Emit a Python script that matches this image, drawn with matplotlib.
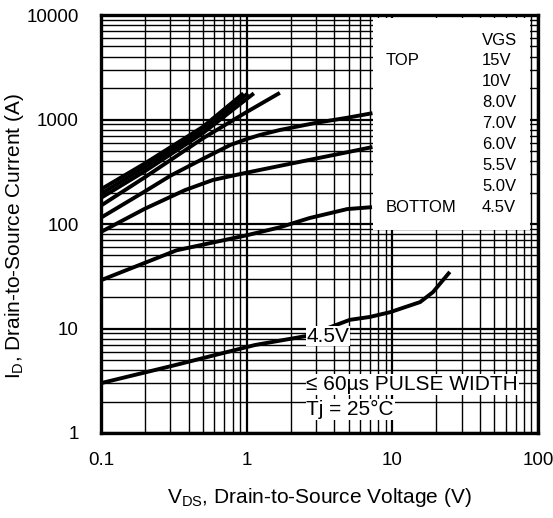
import matplotlib
matplotlib.use("Agg")
import matplotlib.pyplot as plt
from matplotlib.ticker import LogLocator, NullFormatter, FixedLocator, FixedFormatter
import matplotlib.patches as mpatches

plt.rcParams['font.family'] = ['Liberation Sans', 'DejaVu Sans']
plt.rcParams['mathtext.fontset'] = 'custom'
plt.rcParams['mathtext.rm'] = 'Liberation Sans'
plt.rcParams['mathtext.it'] = 'Liberation Sans'

# ---- data ----
vgs_labels = ["15V", "10V", "8.0V", "7.0V", "6.0V", "5.5V", "5.0V", "4.5V"]

v_15 = [0.1, 0.2, 0.5, 0.95]
i_15 = [215, 380, 850, 1780]
v_10 = [0.1, 0.2, 0.5, 1.02]
i_10 = [195, 350, 800, 1780]
v_8 = [0.1, 0.2, 0.5, 1.12]
i_8 = [178, 320, 740, 1780]
v_7 = [0.1, 0.2, 0.5, 1.0, 1.69]
i_7 = [150, 280, 660, 1180, 1800]
v_6 = [0.1, 0.2, 0.3, 0.5, 0.77, 1.0, 1.23, 1.69, 3.0, 5.0, 7.3]
i_6 = [115, 205, 290, 420, 570, 650, 711, 794, 930, 1045, 1150]
v_55 = [0.1, 0.2, 0.377, 0.587, 1.0, 1.23, 1.69, 2.72, 5.0, 7.3]
i_55 = [84, 140, 211, 264, 310, 329, 360, 412, 489, 545]
v_5 = [0.1, 0.33, 1.0, 1.69, 2.7, 4.9, 7.25]
i_5 = [29, 56, 78, 93, 114, 139, 145]
v_45 = [0.1, 0.32, 1.14, 2.6, 5.1, 7.0, 9.6, 15.5, 19.0, 24.8]
i_45 = [3.0, 4.45, 6.95, 8.5, 12.1, 12.9, 14.3, 17.9, 22.3, 34.8]

x_ticks = [0.1, 1, 10, 100]
x_tick_labels = ["0.1", "1", "10", "100"]
y_ticks = [1, 10, 100, 1000, 10000]
y_tick_labels = ["1", "10", "100", "1000", "10000"]

curves = [(v_15, i_15), (v_10, i_10), (v_8, i_8), (v_7, i_7),
          (v_6, i_6), (v_55, i_55), (v_5, i_5), (v_45, i_45)]

fig = plt.figure(figsize=(5.53, 5.18), dpi=100)
ax = fig.add_axes([0.1826, 0.1641, 0.7904, 0.8069])
ax.set_xscale('log')
ax.set_yscale('log')
ax.set_xlim(0.1, 100)
ax.set_ylim(1, 10000)

# grid
ax.set_axisbelow(True)
ax.xaxis.set_minor_locator(LogLocator(base=10, subs=range(2, 10), numticks=20))
ax.yaxis.set_minor_locator(LogLocator(base=10, subs=range(2, 10), numticks=20))
ax.xaxis.set_minor_formatter(NullFormatter())
ax.yaxis.set_minor_formatter(NullFormatter())
ax.xaxis.set_major_locator(FixedLocator(x_ticks))
ax.xaxis.set_major_formatter(FixedFormatter(x_tick_labels))
ax.yaxis.set_major_locator(FixedLocator(y_ticks))
ax.yaxis.set_major_formatter(FixedFormatter(y_tick_labels))
ax.grid(which='major', color='black', linewidth=1.6)
ax.grid(which='minor', color='black', linewidth=1.0)
ax.tick_params(which='both', length=0)
ax.tick_params(axis='y', pad=16, labelsize=13.5)
ax.tick_params(axis='x', pad=14, labelsize=13.5)
for s in ax.spines.values():
    s.set_linewidth(2.4)
    s.set_zorder(5)

# legend box (white, hides the grid)
rect = mpatches.Rectangle((0.622, 0.486), 0.36, 0.507, transform=ax.transAxes,
                          facecolor='white', edgecolor='none', zorder=1)
ax.add_patch(rect)

for v, i in curves:
    ax.plot(v, i, color='black', linewidth=2.8, solid_capstyle='butt', zorder=3)

# legend text
fs_leg = 12
ax.text(0.872, 0.940, "VGS", transform=ax.transAxes, fontsize=fs_leg, va='center', ha='left', zorder=4)
ax.text(0.652, 0.892, "TOP", transform=ax.transAxes, fontsize=fs_leg, va='center', ha='left', zorder=4)
ax.text(0.652, 0.892 - 7 * 0.0502, "BOTTOM", transform=ax.transAxes, fontsize=fs_leg, va='center', ha='left', zorder=4)
for k, lab in enumerate(vgs_labels):
    ax.text(0.872, 0.892 - k * 0.0502, lab, transform=ax.transAxes, fontsize=fs_leg,
            va='center', ha='left', zorder=4)

bb = dict(facecolor='white', edgecolor='none', pad=0.5)
ax.text(0.470, 0.232, "4.5V", transform=ax.transAxes, fontsize=15, va='center', ha='left',
        bbox=bb, zorder=4)
ax.text(0.470, 0.116, "\u2264 60\u00b5s PULSE WIDTH", transform=ax.transAxes, fontsize=15,
        va='center', ha='left', bbox=bb, zorder=4)
ax.text(0.470, 0.056, "Tj = 25\u00b0C", transform=ax.transAxes, fontsize=15,
        va='center', ha='left', bbox=bb, zorder=4)

ax.set_xlabel("V$_\\mathrm{DS}$, Drain-to-Source Voltage (V)", fontsize=15)
ax.set_ylabel("I$_\\mathrm{D}$, Drain-to-Source Current (A)", fontsize=15)
ax.xaxis.set_label_coords(0.50, -0.128)
ax.yaxis.set_label_coords(-0.172, 0.47)

fig.savefig("out.png", dpi=100)
